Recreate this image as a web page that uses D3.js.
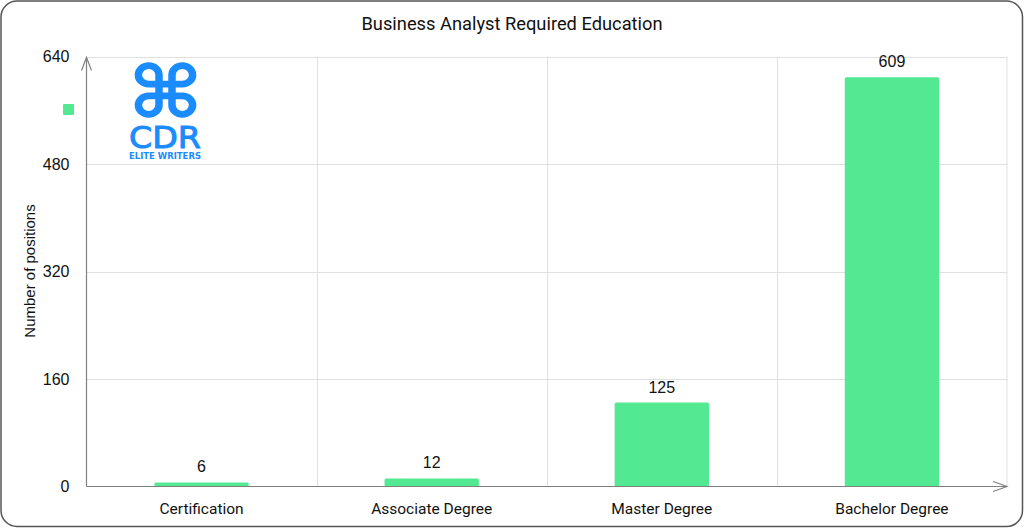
<!DOCTYPE html>
<html><head><meta charset="utf-8">
<script src="https://cdn.jsdelivr.net/npm/d3@7"></script>
<style>html,body{margin:0;padding:0;background:#fff;}svg{display:block;}</style>
</head><body>
<svg id="c" width="1024" height="528"></svg>
<script>
const categories = ["Certification", "Associate Degree", "Master Degree", "Bachelor Degree"];
const values = [6, 12, 125, 609];
const yTicks = [0, 160, 320, 480, 640];
const title = "Business Analyst Required Education";
const yTitle = "Number of positions";

const W = 1024, H = 528;
const m = {left: 86.5, right: 1007, top: 56.5, bottom: 486.5};
const barColor = "#52e992";
const svg = d3.select("#c");
const font = "Roboto, 'Liberation Sans', Arial, sans-serif";
const numFont = "'Liberation Sans', Arial, sans-serif";

// frame
svg.append("rect").attr("x", 1).attr("y", 1).attr("width", W - 2.5).attr("height", H - 2.5)
  .attr("rx", 16).attr("fill", "#fff").attr("stroke", "#555").attr("stroke-width", 1.5);

const x = d3.scaleBand().domain(categories).range([m.left, m.right]).paddingInner(0).paddingOuter(0);
const y = d3.scaleLinear().domain([0, 640]).range([m.bottom, m.top]);

// horizontal grid
svg.append("g").selectAll("line").data(yTicks.filter(d => d > 0)).join("line")
  .attr("x1", m.left).attr("x2", m.right).attr("y1", d => Math.round(y(d)) + 0.5).attr("y2", d => Math.round(y(d)) + 0.5)
  .attr("stroke", "#e0e0e0").attr("stroke-width", 1);
// vertical grid at band boundaries
svg.append("g").selectAll("line").data(categories.slice(1).concat(["__end"])).join("line")
  .attr("x1", d => d === "__end" ? m.right : Math.round(x(d)) + 0.5)
  .attr("x2", d => d === "__end" ? m.right : Math.round(x(d)) + 0.5)
  .attr("y1", m.top).attr("y2", m.bottom)
  .attr("stroke", "#e0e0e0").attr("stroke-width", 1);

// bars
const bw = x.bandwidth() * 0.41;
svg.append("g").selectAll("rect").data(values).join("rect")
  .attr("x", (d, i) => x(categories[i]) + x.bandwidth() / 2 - bw / 2)
  .attr("width", bw)
  .attr("y", d => y(d)).attr("height", d => y(0) - y(d))
  .attr("rx", 1.5)
  .attr("fill", barColor);

// value labels
svg.append("g").selectAll("text").data(values).join("text")
  .attr("x", (d, i) => x(categories[i]) + x.bandwidth() / 2)
  .attr("y", d => y(d) - 10)
  .attr("text-anchor", "middle").attr("font-family", numFont).attr("font-size", 16).attr("fill", "#111")
  .text(d => d);

// axes
const axisColor = "#808080";
const yAxis = d3.axisLeft(y).tickValues(yTicks).tickSize(0).tickPadding(17);
const gy = svg.append("g").attr("transform", `translate(${m.left},0)`).call(yAxis);
gy.select(".domain").remove();
gy.selectAll("text").attr("font-family", numFont).attr("font-size", 16).attr("fill", "#111");

const xAxis = d3.axisBottom(x).tickSize(0).tickPadding(16);
const gx = svg.append("g").attr("transform", `translate(0,${m.bottom})`).call(xAxis);
gx.select(".domain").remove();
gx.selectAll("text").attr("font-family", font).attr("font-size", 15.5).attr("fill", "#111");

svg.append("line").attr("x1", m.left).attr("x2", m.left).attr("y1", m.bottom).attr("y2", m.top + 1)
  .attr("stroke", axisColor).attr("stroke-width", 1.2);
svg.append("line").attr("x1", m.left).attr("x2", m.right).attr("y1", m.bottom).attr("y2", m.bottom)
  .attr("stroke", axisColor).attr("stroke-width", 1.2);
svg.append("path").attr("d", `M${m.left - 5},${m.top + 14} L${m.left},${m.top + 1} L${m.left + 5},${m.top + 14}`)
  .attr("fill", "none").attr("stroke", axisColor).attr("stroke-width", 1.2);
svg.append("path").attr("d", `M${m.right - 14},${m.bottom - 5} L${m.right},${m.bottom} L${m.right - 14},${m.bottom + 5}`)
  .attr("fill", "none").attr("stroke", axisColor).attr("stroke-width", 1.2);

// title
svg.append("text").attr("x", 512).attr("y", 30).attr("text-anchor", "middle")
  .attr("font-family", font).attr("font-size", 18.3).attr("fill", "#111").text(title);

// y title
svg.append("text").attr("transform", "translate(35,271) rotate(-90)").attr("text-anchor", "middle")
  .attr("font-family", numFont).attr("font-size", 15).attr("fill", "#111").text(yTitle);

// legend square
svg.append("rect").attr("x", 63).attr("y", 104).attr("width", 11).attr("height", 11).attr("rx", 1)
  .attr("fill", barColor);

// logo
const blue = "#1a8cff";
const logo = svg.append("g").attr("transform", "translate(165.5,90) scale(1,0.9)");
const a = 6.5, r = 10.3;
let dPath = "";
[[-1,-1],[1,-1],[1,1],[-1,1]].forEach(([sx, sy]) => {
  const sweep = sx * sy > 0 ? 0 : 1;
  dPath += `M${sx*a},${sy*(a+r)} A${r},${r} 0 1 ${sweep} ${sx*(a+r)},${sy*a} `;
});
dPath += `M${-a},${-(a+r)} L${-a},${a+r} M${a},${-(a+r)} L${a},${a+r} M${-(a+r)},${-a} L${a+r},${-a} M${-(a+r)},${a} L${a+r},${a}`;
logo.append("path").attr("d", dPath).attr("fill", "none").attr("stroke", blue).attr("stroke-width", 7.5);
svg.append("text").attr("x", 165).attr("y", 148).attr("text-anchor", "middle")
  .attr("font-family", "'DejaVu Sans', sans-serif").attr("font-size", 31).attr("fill", blue)
  .attr("stroke", blue).attr("stroke-width", 1)
  .attr("textLength", 72).attr("lengthAdjust", "spacingAndGlyphs").text("CDR");
svg.append("text").attr("x", 129).attr("y", 158.5)
  .attr("font-family", "'DejaVu Sans', sans-serif").attr("font-weight", "bold").attr("font-size", 8).attr("fill", blue)
  .attr("textLength", 72).attr("lengthAdjust", "spacingAndGlyphs").text("ELITE WRITERS");
</script>
</body></html>
